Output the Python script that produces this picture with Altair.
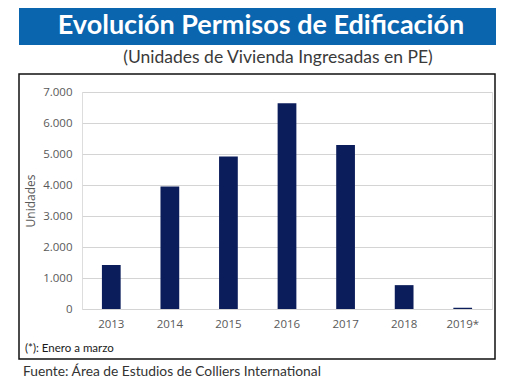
import altair as alt
import pandas as pd

years = ["2013", "2014", "2015", "2016", "2017", "2018", "2019*"]
units = [1420, 3950, 4920, 6640, 5290, 770, 40]

title_text = "Evolución Permisos de Edificación"
subtitle_text = "(Unidades de Vivienda Ingresadas en PE)"
note_text = "(*): Enero a marzo"
source_text = "Fuente: Área de Estudios de Colliers International"

df = pd.DataFrame({"year": years, "units": units})
one = pd.DataFrame({"a": [0]})

W, H = 410, 217

bars = alt.Chart(df).mark_bar(color="#0c1d5b").encode(
    x=alt.X("year:N", sort=years, title=None,
            scale=alt.Scale(paddingInner=0.68, paddingOuter=0.34),
            axis=alt.Axis(labelAngle=0, ticks=False, domain=False, labelPadding=9,
                          labelColor="#595959", labelFontSize=11.5, labelFont="Open Sans")),
    y=alt.Y("units:Q", title="Unidades",
            scale=alt.Scale(domain=[0, 7000], nice=False),
            axis=alt.Axis(values=[0, 1000, 2000, 3000, 4000, 5000, 6000, 7000],
                          labelExpr="replace(format(datum.value, ','), ',', '.')",
                          ticks=False, domain=False, labelPadding=10,
                          labelColor="#595959", labelFontSize=11.5, labelFont="Open Sans",
                          titleColor="#595959", titleFontSize=12, titleFontWeight="normal",
                          titleFont="Open Sans", titlePadding=5,
                          gridColor="#d4d4d4", gridWidth=1)),
)

base = alt.Chart(one)

banner = base.mark_rect(color="#0a64ae").encode(
    x=alt.value(-63), x2=alt.value(414), y=alt.value(-84), y2=alt.value(-47))

box = base.mark_rect(fill=None, stroke="#111111", strokeWidth=1.5).encode(
    x=alt.value(-63), x2=alt.value(413), y=alt.value(-18), y2=alt.value(267))

title = base.mark_text(text=title_text, color="white", font="Lato", fontWeight="bold",
                       fontSize=27, align="center", baseline="middle").encode(
    x=alt.value(179), y=alt.value(-66))

subtitle = base.mark_text(text=subtitle_text, color="#3a3a3a", font="Lato",
                          fontSize=17.5, align="center", baseline="middle").encode(
    x=alt.value(196), y=alt.value(-34))

note = base.mark_text(text=note_text, color="#1a1a1a", font="Lato",
                      fontSize=11.5, align="left", baseline="middle").encode(
    x=alt.value(-57), y=alt.value(257))

source = base.mark_text(text=source_text, color="#333333", font="Lato",
                        fontSize=13.8, align="left", baseline="middle").encode(
    x=alt.value(-59), y=alt.value(280))

chart = alt.layer(banner, box, bars, title, subtitle, note, source).properties(
    width=W, height=H,
    autosize=alt.AutoSizeParams(type="none"),
    padding={"left": 74, "top": 84, "right": 18, "bottom": 72},
).configure_view(stroke=None).configure(background="white")

chart.save("out.html", embed_options={"renderer": "svg", "actions": False})
